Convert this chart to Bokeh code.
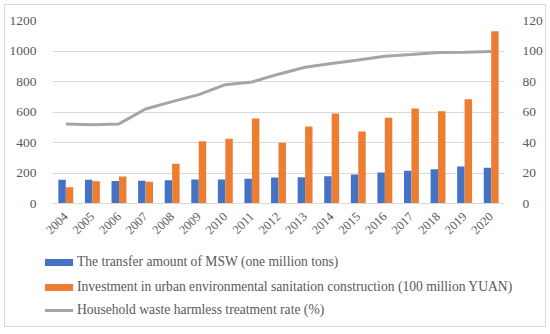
from bokeh.plotting import figure
from bokeh.layouts import column
from bokeh.models import (ColumnDataSource, Range1d, LinearAxis, FixedTicker, FactorRange, Div)
from bokeh.transform import dodge
from bokeh.embed import file_html
from bokeh.resources import INLINE
import math

years = [str(y) for y in range(2004, 2021)]
msw = [155, 155, 148, 150, 153, 157, 157, 163, 170, 172, 179, 190, 203, 214, 225, 242, 234]
invest = [107, 146, 177, 142, 260, 409, 424, 557, 398, 505, 590, 472, 562, 623, 605, 684, 1130]
rate = [52.1, 51.7, 52.2, 62.0, 66.8, 71.4, 77.9, 79.7, 84.8, 89.3, 91.8, 94.1, 96.6, 97.7, 99.0, 99.2, 99.7]
left_ticks = [0, 200, 400, 600, 800, 1000, 1200]
right_ticks = [0, 20, 40, 60, 80, 100, 120]
series_names = ["The transfer amount of MSW (one million tons)",
                "Investment in urban environmental sanitation construction (100 million YUAN)",
                "Household waste harmless treatment rate (%)"]

src = ColumnDataSource(dict(year=years, msw=msw, invest=invest, rate=rate))

FONT = "Liberation Serif"
GREY = "#595959"
BLUE, ORANGE, LGREY = "#4472c4", "#ed7d31", "#a5a5a5"

p = figure(x_range=FactorRange(*years, range_padding=0), y_range=Range1d(0, 1200),
           width=540, height=244, output_backend="svg", toolbar_location=None,
           min_border_left=47, min_border_right=40, min_border_top=15, min_border_bottom=46)
p.outline_line_color = None
p.extra_y_ranges = {"rate": Range1d(0, 120)}

p.vbar(x=dodge('year', -0.14, range=p.x_range), top='msw', width=0.28, source=src,
       fill_color=BLUE, line_color=None)
p.vbar(x=dodge('year', 0.14, range=p.x_range), top='invest', width=0.28, source=src,
       fill_color=ORANGE, line_color=None)
p.line(x='year', y='rate', source=src, y_range_name="rate", line_color=LGREY, line_width=3)

p.xgrid.grid_line_color = None
p.ygrid.grid_line_color = "#d9d9d9"
p.yaxis.ticker = FixedTicker(ticks=left_ticks)

ra = LinearAxis(y_range_name="rate", ticker=FixedTicker(ticks=right_ticks))
p.add_layout(ra, "right")

for ax in [p.yaxis[0], ra]:
    ax.axis_line_color = None
    ax.major_tick_line_color = None
    ax.minor_tick_line_color = None
    ax.major_label_text_font = FONT
    ax.major_label_text_font_size = "13.5px"
    ax.major_label_text_color = GREY
p.yaxis[0].major_label_standoff = 10
ra.major_label_standoff = 12

xa = p.xaxis[0]
xa.axis_line_color = "#d9d9d9"
xa.major_tick_line_color = None
xa.minor_tick_line_color = None
xa.major_label_orientation = math.pi / 4
xa.major_label_text_font = FONT
xa.major_label_text_font_size = "12.5px"
xa.major_label_text_color = GREY
xa.major_label_standoff = 5

# legend below the chart, as HTML
swatches = [(BLUE, 7), (ORANGE, 7), (LGREY, 3)]
row_tops = [5, 30, 53]
rows = []
for (color, h), top, name in zip(swatches, row_tops, series_names):
    rows.append(
        f'<div style="position:absolute;left:40px;top:{top}px;height:16px;display:flex;'
        f'align-items:center;white-space:nowrap;">'
        f'<span style="display:inline-block;width:28px;height:{h}px;background:{color};'
        f'margin-right:4px;"></span><span>{name}</span></div>')
html = ('<div style="position:relative;width:540px;height:77px;font-family:\'Liberation Serif\';'
        f'font-size:13.6px;line-height:16px;color:{GREY};">' + "".join(rows) + '</div>')
legend_div = Div(text=html, width=540, height=77, margin=0)

layout = column(p, legend_div, spacing=0,
                styles={"border": "1px solid #d9d9d9", "margin-left": "4px", "margin-top": "4px"})

open("out.html", "w").write(file_html(layout, INLINE))
